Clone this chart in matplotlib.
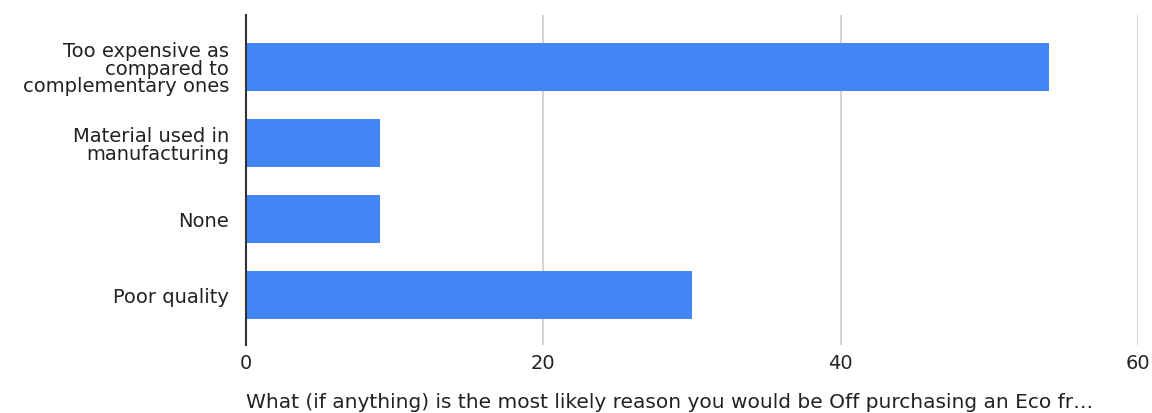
import matplotlib
matplotlib.use("Agg")
import matplotlib.pyplot as plt

# 调查结果：放弃购买环保产品的原因
reasons = [
    "Too expensive as\ncompared to\ncomplementary ones",
    "Material used in\nmanufacturing",
    "None",
    "Poor quality",
]
counts = [54, 9, 9, 30]
x_ticks = [0, 20, 40, 60]
x_title = "What (if anything) is the most likely reason you would be Off purchasing an Eco fr\u2026"

plt.rcParams["font.family"] = ["DejaVu Sans"]

fig = plt.figure(figsize=(11.52, 4.14), dpi=100)
ax = fig.add_axes([0.2135, 0.1643, 0.7743, 0.7971])

pos = list(range(len(reasons)))
ax.barh(pos, counts, height=0.63, color="#4285f4", zorder=3)

ax.set_ylim(len(reasons) - 1 + 0.66, -0.68)
ax.set_xlim(0, 60)
ax.set_yticks(pos)
ax.set_yticklabels(reasons, fontsize=14, color="#222222", linespacing=0.92)
ax.set_xticks(x_ticks)
ax.set_xticklabels([str(t) for t in x_ticks], fontsize=14, color="#222222")

# 网格线与坐标轴
ax.grid(axis="x", color="#cccccc", linewidth=1.2, zorder=0)
for side in ["top", "right", "bottom"]:
    ax.spines[side].set_visible(False)
ax.spines["left"].set_color("#333333")
ax.spines["left"].set_linewidth(1.5)
ax.spines["left"].set_zorder(4)
ax.tick_params(axis="both", length=0)
ax.tick_params(axis="y", pad=12)
ax.tick_params(axis="x", pad=6)

ax.set_xlabel(x_title, loc="left", fontsize=14.5, color="#222222", labelpad=14)

fig.savefig("out.png", dpi=100, facecolor="white")
